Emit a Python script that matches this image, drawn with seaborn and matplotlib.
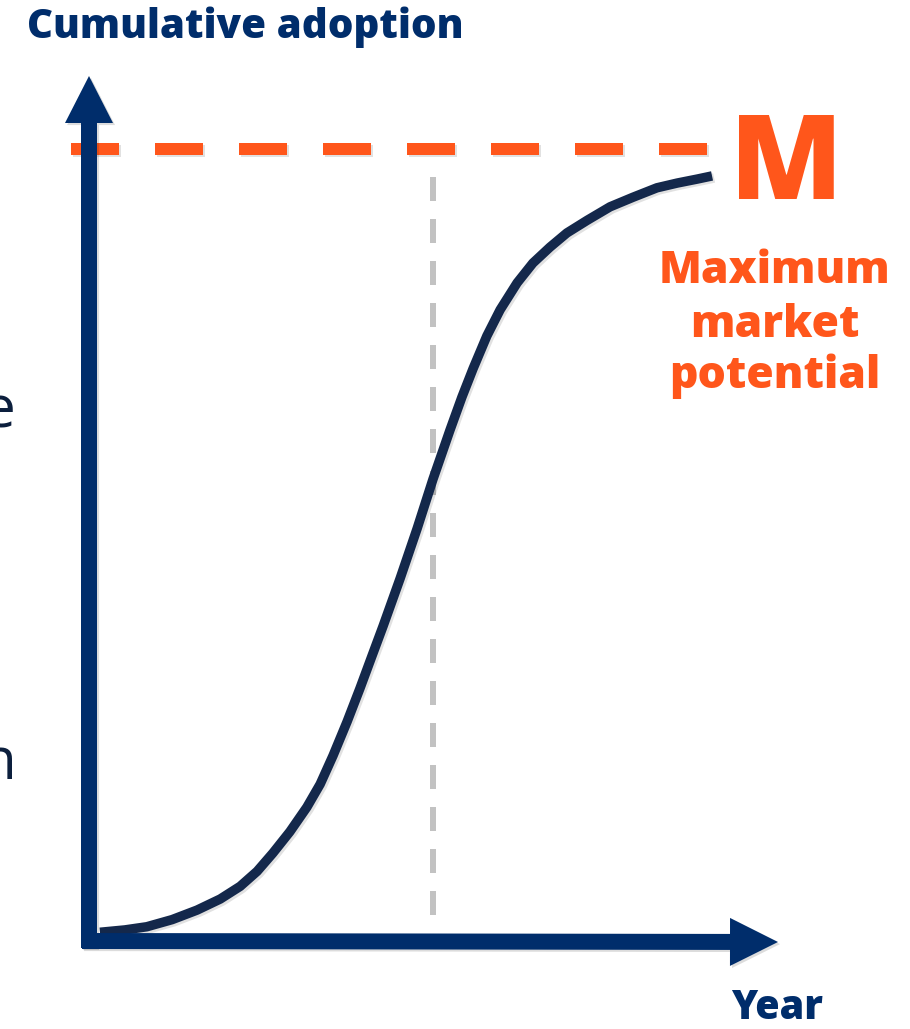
import numpy as np
import pandas as pd
import seaborn as sns
import matplotlib
matplotlib.use("Agg")
import matplotlib.pyplot as plt
import matplotlib.patheffects as pe
from matplotlib.patches import FancyArrowPatch, ArrowStyle

# ---- data: cumulative adoption (share of market potential) by year ----
years = [0.24, 0.84, 1.37, 1.98, 2.58, 3.14, 3.62, 4.03, 4.41, 4.82,
         5.23, 5.55, 5.86, 6.20, 6.51, 6.80, 7.07, 7.48, 7.89, 8.27,
         8.68, 8.97, 9.24, 9.57, 9.89, 10.30, 10.68, 11.09, 11.50, 11.99,
         12.54, 13.09, 13.67, 14.16, 14.64, 15.00]
adoption = [0.011, 0.014, 0.018, 0.027, 0.039, 0.053, 0.069, 0.088, 0.111, 0.138,
            0.169, 0.198, 0.234, 0.277, 0.319, 0.360, 0.398, 0.458, 0.521, 0.583,
            0.645, 0.687, 0.723, 0.764, 0.797, 0.831, 0.856, 0.876, 0.894, 0.910,
            0.927, 0.939, 0.951, 0.957, 0.962, 0.966]
market_potential = 1.0      # M
peak_year = 8.27            # year of fastest adoption

y_label = "Cumulative adoption"
x_label = "Year"
m_label = "M"
m_caption = ["Maximum", "market", "potential"]

# ---- layout ----
W, H, DPI = 910, 1029, 100
ORIGIN = (90, 941)          # pixel position of (year 0, adoption 0)
PX_PER_YEAR = 41.47
PX_PER_SHARE = 792.0

NAVY = "#002D6B"
CURVE = "#14284B"
ORANGE = "#FF561B"
GREY = "#C2C2C2"


def pt(p):
    """pixels -> points"""
    return p * 72.0 / DPI


def dx(p):
    return (p - ORIGIN[0]) / PX_PER_YEAR


def dy(p):
    return (ORIGIN[1] - p) / PX_PER_SHARE


def fig_xy(x, y):
    return x / W, 1 - y / H


sns.set_theme(style="white")
plt.rcParams["font.family"] = ["Open Sans", "DejaVu Sans"]

fig = plt.figure(figsize=(W / DPI, H / DPI), dpi=DPI)
ax = fig.add_axes([0, 0, 1, 1])
ax.set_xlim(dx(0), dx(W))
ax.set_ylim(dy(H), dy(0))
ax.axis("off")

line_shadow = [pe.SimpleLineShadow(offset=(1.5, -1.5), shadow_color="k", alpha=0.13), pe.Normal()]
patch_shadow = [pe.SimplePatchShadow(offset=(1.5, -1.5), shadow_rgbFace="k", alpha=0.15), pe.Normal()]

# market potential level
ax.plot([dx(71), dx(707)], [market_potential, market_potential], color=ORANGE,
        lw=pt(12), dashes=(4, 3), dash_capstyle="butt", zorder=2, path_effects=line_shadow)

# peak adoption year
ax.plot([peak_year, peak_year], [dy(177), dy(915)], color=GREY,
        lw=pt(6), dashes=(4, 3), dash_capstyle="butt", zorder=2)

# adoption curve
df = pd.DataFrame({"year": years, "adoption": adoption})
sns.lineplot(data=df, x="year", y="adoption", ax=ax, color=CURVE, lw=pt(9.5),
             sort=False, estimator=None, zorder=3, path_effects=line_shadow)
curve = ax.lines[-1]
curve.set_solid_capstyle("butt")
curve.set_solid_joinstyle("round")

# axes drawn as arrows
y_arrow = FancyArrowPatch(
    posA=(dx(89), dy(948)), posB=(dx(89), dy(76)),
    arrowstyle=ArrowStyle.Simple(head_length=pt(47), head_width=pt(48), tail_width=pt(16)),
    mutation_scale=1, shrinkA=0, shrinkB=0, color=NAVY, lw=0, zorder=4,
    path_effects=patch_shadow)
x_arrow = FancyArrowPatch(
    posA=(dx(82), dy(941)), posB=(dx(778), dy(942)),
    arrowstyle=ArrowStyle.Simple(head_length=pt(48), head_width=pt(48), tail_width=pt(16)),
    mutation_scale=1, shrinkA=0, shrinkB=0, color=NAVY, lw=0, zorder=4,
    path_effects=patch_shadow)
ax.add_patch(y_arrow)
ax.add_patch(x_arrow)

# labels
fig.text(*fig_xy(245, 38), y_label, color=NAVY, fontsize=29, fontweight="heavy",
         ha="center", va="baseline")
fig.text(*fig_xy(777, 1019), x_label, color=NAVY, fontsize=28.5, fontweight="heavy",
         ha="center", va="baseline")
fig.text(*fig_xy(786, 199), m_label, color=ORANGE, fontsize=84, fontweight="heavy",
         ha="center", va="baseline")
for word, base in zip(m_caption, [283, 337, 388]):
    fig.text(*fig_xy(775, base), word, color=ORANGE, fontsize=32, fontweight="heavy",
             ha="center", va="baseline")

# edges of neighbouring text
fig.text(*fig_xy(15, 428), "e", color="#0C1F3D", fontsize=42, ha="right", va="baseline")
fig.text(*fig_xy(17, 779), "n", color="#0C1F3D", fontsize=42, ha="right", va="baseline")

fig.savefig("out.png", dpi=DPI, facecolor="white")
